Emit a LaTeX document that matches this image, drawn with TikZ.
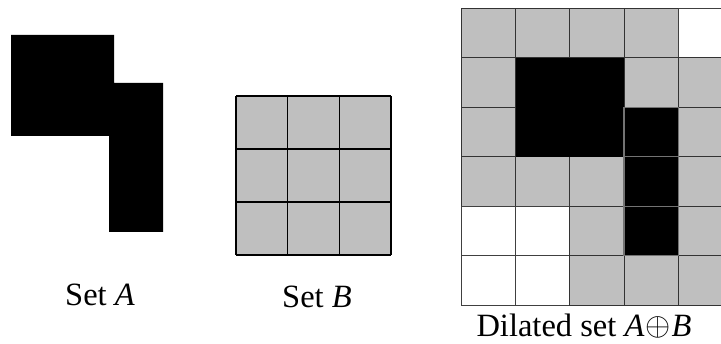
\documentclass[tikz,border=0pt]{standalone}
\usepackage{fontspec}
\setmainfont{Liberation Serif}
\begin{document}
\begin{tikzpicture}[x=1pt,y=-1pt,
  shade cell/.style={fill=black!25,draw=black!80,line width=1pt},
  empty cell/.style={fill=white,draw=black!75,line width=0.9pt},
  solid cell/.style={fill=black,draw=black!55,line width=1.4pt},
  caption/.style={font=\fontsize{32.5}{34}\selectfont,inner sep=0pt,anchor=base}]
\useasboundingbox (0,0) rectangle (721,344);

% set A: a 2x2 block with a 1x3 column hanging from its right side
\fill[black] (11,35) -- (114,35) -- (114,83) -- (163,83) -- (163,232)
  -- (109,232) -- (109,136) -- (11,136) -- cycle;

% set B: 3x3 structuring element
\fill[black!25] (236,96) rectangle (391,255);
\foreach \i in {0,1,2,3}{
  \draw[black,line width=1.6pt] (236+\i*51.67,96) -- (236+\i*51.67,255);
  \draw[black,line width=1.6pt] (236,96+\i*53) -- (391,96+\i*53);
}

% dilated set on a 5x6 grid
\begin{scope}
\clip (0,0) rectangle (721,344);
\def\cw{54.2}\def\ch{49.5}\def\xo{461.5}\def\yo{8.3}
% cell classes: g = shaded, w = empty, b = part of A
\foreach \row/\cells in {0/{g,g,g,g,w},1/{g,b,b,g,g},2/{g,b,b,b,g},
                         3/{g,g,g,b,g},4/{w,w,g,b,g},5/{w,w,g,g,g}}{
  \foreach \c [count=\col from 0] in \cells {
    \pgfmathsetmacro\xa{\xo+\col*\cw}
    \pgfmathsetmacro\ya{\yo+\row*\ch}
    \if g\c
      \draw[shade cell] (\xa,\ya) rectangle ++(\cw,\ch);
    \fi
    \if w\c
      \draw[empty cell] (\xa,\ya) rectangle ++(\cw,\ch);
    \fi
  }
}
% original set A inside the dilation
\fill[black] (\xo+\cw,\yo+\ch) rectangle (\xo+3*\cw,\yo+3*\ch);
\foreach \row in {2,3,4}
  \draw[solid cell] (\xo+3*\cw,\yo+\row*\ch) rectangle ++(\cw,\ch);
\end{scope}

% captions
\node[caption] (capA) at (100,306) {Set \textit{A}};
\node[caption] (capB) at (317,308) {Set \textit{B}};
\node[caption] (capD) at (584,336.5) {Dilated set \textit{A}\kern1pt\raisebox{0.5pt}{\scalebox{1.3}{$\oplus$}}\kern1pt\textit{B}};
\end{tikzpicture}
\end{document}
